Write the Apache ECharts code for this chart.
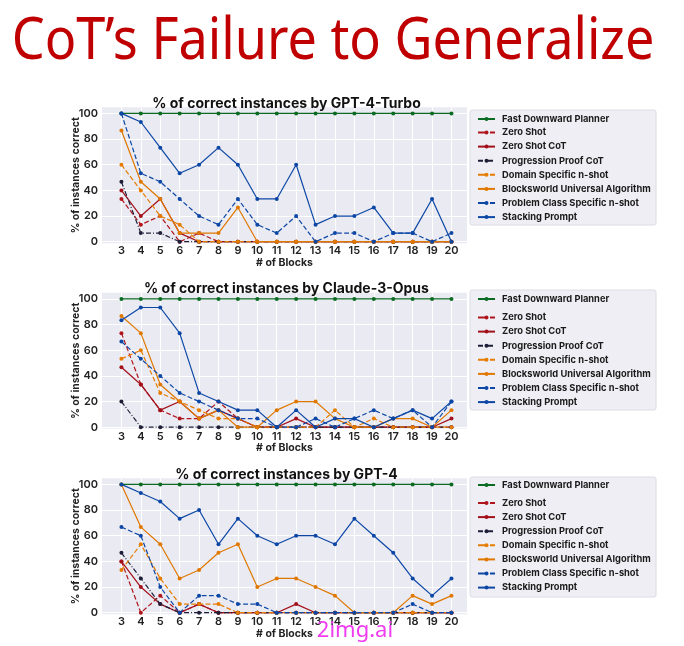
<!DOCTYPE html>
<html>
<head>
<meta charset="utf-8">
<script src="https://cdn.jsdelivr.net/npm/echarts@6/dist/echarts.min.js"></script>
<style>
html,body{margin:0;padding:0;background:#fff;}
#chart{width:684px;height:646px;}
</style>
</head>
<body>
<div id="chart"></div>
<script>
// ---------- data ----------
const blocks = [3,4,5,6,7,8,9,10,11,12,13,14,15,16,17,18,19,20];
const yTicks = [0,20,40,60,80,100];
const methods = ["Fast Downward Planner","Zero Shot","Zero Shot CoT","Progression Proof CoT","Domain Specific n-shot","Blocksworld Universal Algorithm","Problem Class Specific n-shot","Stacking Prompt"];
const models = ["GPT-4-Turbo","Claude-3-Opus","GPT-4"];

// GPT-4-Turbo
const turboFD        = [100,100,100,100,100,100,100,100,100,100,100,100,100,100,100,100,100,100];
const turboZero      = [33.3,13.3,20,0,6.7,0,0,0,0,0,0,0,0,0,0,0,0,0];
const turboZeroCoT   = [40,20,33.3,6.7,0,0,0,0,0,0,0,0,0,0,0,0,0,0];
const turboProg      = [46.7,6.7,6.7,0,0,0,0,0,0,0,0,0,0,0,0,0,0,0];
const turboDomain    = [60,40,20,13.3,0,0,0,0,0,0,0,0,0,0,0,0,0,0];
const turboUniversal = [86.7,46.7,33.3,6.7,6.7,6.7,26.7,0,0,0,0,0,0,0,0,0,0,0];
const turboProblem   = [100,53.3,46.7,33.3,20,13.3,33.3,13.3,6.7,20,0,6.7,6.7,0,6.7,6.7,0,6.7];
const turboStacking  = [100,93.3,73.3,53.3,60,73.3,60,33.3,33.3,60,13.3,20,20,26.7,6.7,6.7,33.3,0];

// Claude-3-Opus
const claudeFD        = [100,100,100,100,100,100,100,100,100,100,100,100,100,100,100,100,100,100];
const claudeZero      = [73.3,33.3,13.3,6.7,6.7,20,6.7,0,0,0,0,0,0,0,0,0,0,0];
const claudeZeroCoT   = [46.7,33.3,13.3,20,6.7,13.3,6.7,0,0,6.7,0,0,0,0,0,0,0,6.7];
const claudeProg      = [20,0,0,0,0,0,0,0,0,0,0,0,0,0,0,0,0,0];
const claudeDomain    = [53.3,60,26.7,20,13.3,6.7,6.7,0,0,0,0,13.3,0,6.7,0,0,0,0];
const claudeUniversal = [86.7,73.3,33.3,20,6.7,13.3,0,0,13.3,20,20,6.7,0,0,6.7,6.7,0,13.3];
const claudeProblem   = [66.7,53.3,40,26.7,20,13.3,6.7,6.7,0,0,6.7,0,6.7,13.3,6.7,13.3,0,20];
const claudeStacking  = [83.3,93.3,93.3,73.3,26.7,20,13.3,13.3,0,13.3,0,6.7,6.7,0,6.7,13.3,6.7,20];

// GPT-4
const gpt4FD        = [100,100,100,100,100,100,100,100,100,100,100,100,100,100,100,100,100,100];
const gpt4Zero      = [40,0,13.3,0,6.7,0,0,0,0,0,0,0,0,0,0,0,0,0];
const gpt4ZeroCoT   = [40,20,6.7,0,6.7,0,0,0,0,6.7,0,0,0,0,0,0,0,0];
const gpt4Prog      = [46.7,26.7,6.7,0,0,0,0,0,0,0,0,0,0,0,0,0,0,0];
const gpt4Domain    = [33.3,53.3,26.7,6.7,6.7,6.7,0,0,0,0,0,0,0,0,0,0,0,0];
const gpt4Universal = [100,66.7,53.3,26.7,33.3,46.7,53.3,20,26.7,26.7,20,13.3,0,0,0,13.3,6.7,13.3];
const gpt4Problem   = [66.7,60,20,0,13.3,13.3,6.7,6.7,0,0,0,0,0,0,0,6.7,0,0];
const gpt4Stacking  = [100,93.3,86.7,73.3,80,53.3,73.3,60,53.3,60,60,53.3,73.3,60,46.7,26.7,13.3,26.7];

const panelData = [
  [turboFD,turboZero,turboZeroCoT,turboProg,turboDomain,turboUniversal,turboProblem,turboStacking],
  [claudeFD,claudeZero,claudeZeroCoT,claudeProg,claudeDomain,claudeUniversal,claudeProblem,claudeStacking],
  [gpt4FD,gpt4Zero,gpt4ZeroCoT,gpt4Prog,gpt4Domain,gpt4Universal,gpt4Problem,gpt4Stacking]
];

// ---------- styles ----------
const styles = [
  {color:'#0b6b22', type:'solid'},
  {color:'#b0141c', type:'dashed'},
  {color:'#a3101a', type:'solid'},
  {color:'#1e1e38', type:[5,2,1,2]},
  {color:'#e67c00', type:'dashed'},
  {color:'#e07800', type:'solid'},
  {color:'#0c47a6', type:'dashed'},
  {color:'#0c47a6', type:'solid'}
];

const FONT = 'Inter';
const GRID_LEFT = 102, GRID_W = 365, GRID_H = 136;
const STRIDE = 185.5, TOP0 = 107.3;

const grids = [], xAxes = [], yAxes = [], series = [], titles = [], legends = [], graphics = [];

models.forEach((m, k) => {
  const top = TOP0 + STRIDE * k;
  grids.push({left: GRID_LEFT, top: top, width: GRID_W, height: GRID_H, show: true,
    backgroundColor: '#EAEAF2', borderWidth: 0, containLabel: false});
  xAxes.push({type:'value', gridIndex:k, min:2, max:20.8,
    name:'# of Blocks', nameLocation:'middle', nameGap:13,
    nameTextStyle:{fontFamily:FONT, fontSize:10.5, fontWeight:700, color:'#222', verticalAlign:'top'},
    axisLine:{show:false}, axisTick:{show:false, customValues: blocks},
    axisLabel:{customValues: blocks, fontFamily:FONT, fontSize:11, fontWeight:600, color:'#222', margin:2},
    splitLine:{show:true, lineStyle:{color:'#ffffff', width:1}}
  });
  yAxes.push({type:'value', gridIndex:k, min:-1.25, max:104.75,
    name:'% of instances correct', nameLocation:'middle', nameGap:21, nameMoveOverlap:false,
    nameTextStyle:{fontFamily:FONT, fontSize:10.5, fontWeight:700, color:'#222'},
    axisLine:{show:false}, axisTick:{show:false, customValues: yTicks},
    axisLabel:{customValues: yTicks, fontFamily:FONT, fontSize:11, fontWeight:600, color:'#222', margin:4},
    splitLine:{show:true, lineStyle:{color:'#ffffff', width:1}}
  });
  titles.push({text:'% of correct instances by ' + m, left: GRID_LEFT + GRID_W/2 - 3, top: top - 16, textAlign:'center',
    textStyle:{fontFamily:FONT, fontSize:14, fontWeight:700, color:'#111'}});
  methods.forEach((name, j) => {
    const vals = panelData[k][j];
    series.push({type:'line', name:name, xAxisIndex:k, yAxisIndex:k,
      data: blocks.map((b,i)=>[b, vals[i]]),
      symbol:'circle', symbolSize:4, showSymbol:true,
      lineStyle:{color:styles[j].color, width:1.2, type:styles[j].type},
      itemStyle:{color:styles[j].color},
      emphasis:{disabled:true}, animation:false, z: 2 + j
    });
  });
  // legend box
  const boxTop = [110, 290, 477][k];
  const boxH = [115, 120, 120][k];
  graphics.push({type:'rect', shape:{x:470, y:boxTop, width:186, height:boxH, r:2},
    style:{fill:'#EEEEF4', stroke:'#dcdce4', lineWidth:1}, z:-1});
  const firstY = [119, 299, 485][k];
  const secondY = [132.5, 317.5, 503][k];
  const lgCommon = {orient:'vertical', left:477, itemWidth:17, itemHeight:5, itemGap:2.1,
    textStyle:{fontFamily:FONT, fontSize:9.3, fontWeight:700, color:'#1a1a1a', lineHeight:12, padding:[0,0,0,2]},
    padding:0, selectedMode:false};
  legends.push(Object.assign({}, lgCommon, {data:[methods[0]], top:firstY-6}));
  legends.push(Object.assign({}, lgCommon, {data:methods.slice(1), top:secondY-6}));
});

graphics.push({type:'text', x:333, y:42, scaleX:0.9, style:{text:'CoT\u2019s Failure to Generalize',
  font:'normal 58px "Noto Sans"', fill:'#c00000', textAlign:'center', textVerticalAlign:'middle'}});
graphics.push({type:'text', x:355, y:631, style:{text:'2img.ai', font:'normal 22px "Noto Sans"', fill:'#f03cf0',
  textAlign:'center', textVerticalAlign:'middle'}, z:100});

const chart = echarts.init(document.getElementById('chart'), null, {renderer:'canvas'});
chart.setOption({
  animation:false,
  title: titles,
  grid: grids,
  xAxis: xAxes,
  yAxis: yAxes,
  legend: legends,
  series: series,
  graphic: graphics
});
</script>
</body>
</html>
